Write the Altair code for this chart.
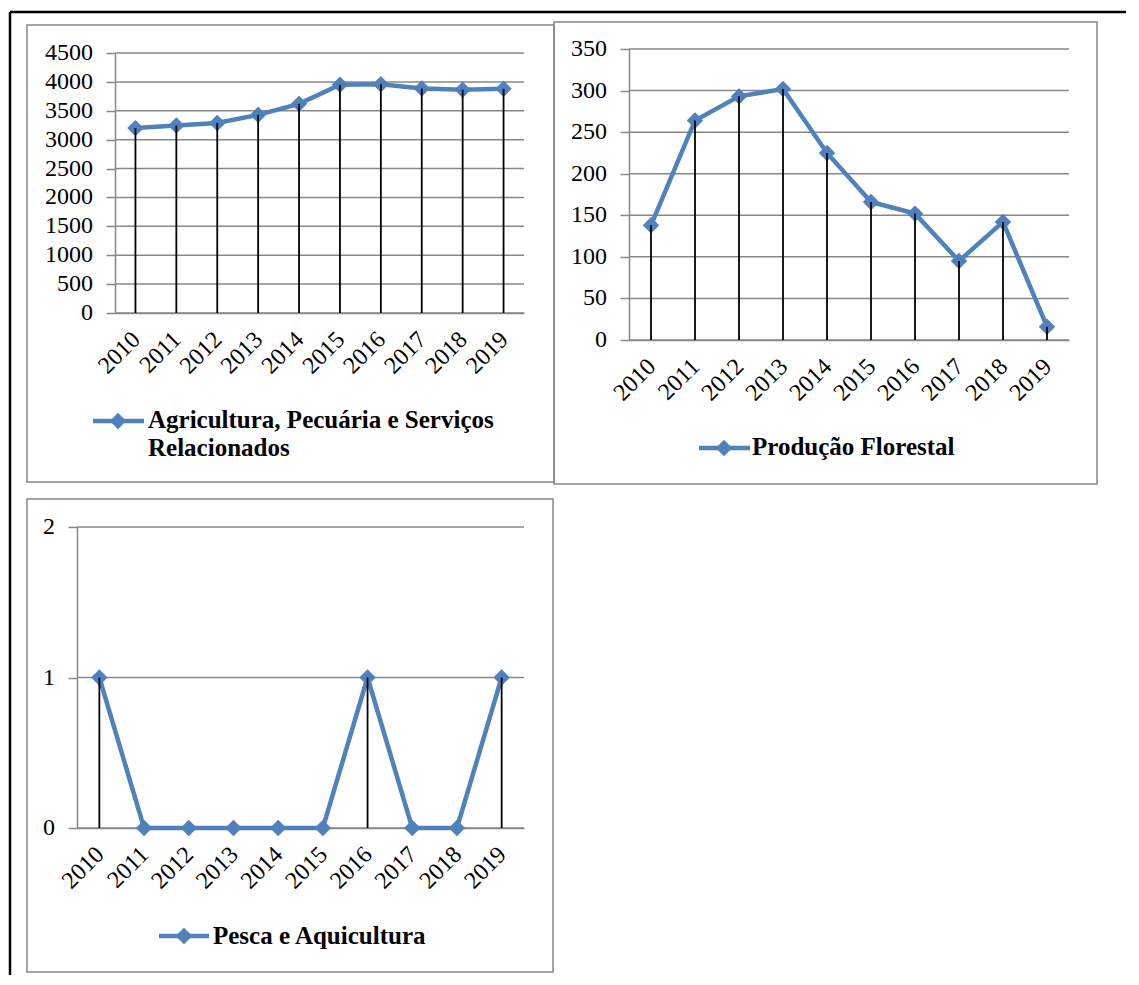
import altair as alt
import pandas as pd

years = ["2010", "2011", "2012", "2013", "2014", "2015", "2016", "2017", "2018", "2019"]
agri = [3200, 3245, 3290, 3430, 3620, 3950, 3960, 3885, 3865, 3880]
flor = [138, 264, 293, 302, 225, 166, 152, 95, 142, 16]
pesca = [1, 0, 0, 0, 0, 0, 1, 0, 0, 1]

name_agri = ["Agricultura, Pecuária e Serviços", "Relacionados"]
name_flor = "Produção Florestal"
name_pesca = "Pesca e Aquicultura"

ticks_agri = [0, 500, 1000, 1500, 2000, 2500, 3000, 3500, 4000, 4500]
ticks_flor = [0, 50, 100, 150, 200, 250, 300, 350]
ticks_pesca = [0, 1, 2]

BLUE = "#4F81BD"
GRID = "#878787"
FONT = "Liberation Serif"
MSIZE = 270


def one():
    return pd.DataFrame({"a": [0]})


def panel(values, ticks, label, w, h, xr, yr, yoff, border, leg, frame=False):
    df = pd.DataFrame({"year": years, "value": values})
    xs = alt.Scale(type="point", padding=0.5, range=xr)
    ys = alt.Scale(domain=[ticks[0], ticks[-1]], range=yr, nice=False, zero=True)
    xaxis = alt.Axis(title=None, labelAngle=-45, ticks=False, domainColor=GRID,
                     domainWidth=1.5, labelFont=FONT, labelFontSize=24,
                     labelColor="black", labelPadding=14, labelOffset=-8,
                     labelOverlap=False)
    yaxis = alt.Axis(title=None, values=ticks, grid=False, tickSize=9, tickColor=GRID,
                     tickWidth=1.5, domainColor=GRID, domainWidth=1.5, labels=False,
                     offset=yoff)

    layers = []
    layers.append(
        alt.Chart(one()).mark_rect(fillOpacity=0, stroke=GRID, strokeWidth=1.5).encode(
            x=alt.value(border[0]), x2=alt.value(border[1]),
            y=alt.value(border[2]), y2=alt.value(border[3]))
    )
    if frame:
        layers.append(
            alt.Chart(one()).mark_rule(color="black", strokeWidth=2.5).encode(
                x=alt.value(frame[0]), x2=alt.value(frame[1]), y=alt.value(frame[2]))
        )
        layers.append(
            alt.Chart(one()).mark_rule(color="black", strokeWidth=2.5).encode(
                x=alt.value(frame[0]), y=alt.value(frame[2]), y2=alt.value(frame[3]))
        )
    gdf = pd.DataFrame({"value": ticks})
    layers.append(
        alt.Chart(gdf).mark_rule(color=GRID, strokeWidth=1.5).encode(
            y=alt.Y("value:Q", scale=ys, axis=yaxis),
            x=alt.value(xr[0]), x2=alt.value(xr[1]))
    )
    # y tick labels
    layers.append(
        alt.Chart(gdf).mark_text(align="right", baseline="middle", font=FONT,
                                 fontSize=24, color="black").encode(
            y=alt.Y("value:Q", scale=ys, axis=yaxis),
            x=alt.value(xr[0] - 22),
            text=alt.Text("value:Q", format="d"))
    )
    base = alt.Chart(df).encode(
        x=alt.X("year:O", scale=xs, axis=xaxis),
        y=alt.Y("value:Q", scale=ys, axis=yaxis),
    )
    layers.append(
        base.mark_line(color=BLUE, strokeWidth=4.5,
                       point=alt.OverlayMarkDef(shape="diamond", size=MSIZE, filled=True,
                                                color=BLUE, opacity=1))
    )
    layers.append(
        base.mark_rule(color="black", strokeWidth=1.8).encode(y2=alt.datum(0))
    )
    # legend
    lx0, lx1, ly, dx, tx, ty = leg
    layers.append(
        alt.Chart(one()).mark_rule(color=BLUE, strokeWidth=4.5).encode(
            x=alt.value(lx0), x2=alt.value(lx1), y=alt.value(ly))
    )
    layers.append(
        alt.Chart(one()).mark_point(shape="diamond", size=MSIZE, filled=True, color=BLUE,
                                    opacity=1).encode(x=alt.value(dx), y=alt.value(ly))
    )
    layers.append(
        alt.Chart(one()).mark_text(align="left", baseline="alphabetic", font=FONT,
                                   fontSize=25, fontWeight="bold", lineHeight=28,
                                   color="black").encode(
            x=alt.value(tx), y=alt.value(ty), text=alt.value(label))
    )
    return alt.layer(*layers).properties(width=w, height=h)


p1 = panel(agri, ticks_agri, name_agri, 409, 262, [0, 409], [262, 2], 0,
           (-88, 439, -26, 431), (-22, 29, 370, 3, 33, 377),
           frame=(-105, 1011, -39, 924))
p2 = panel(flor, ticks_flor, name_flor, 440, 289, [0, 440], [289, -2], 0,
           (-75, 468, -29, 433), (70, 121, 397, 95, 123, 404))
p3 = panel(pesca, ticks_pesca, name_pesca, 409, 301, [-38, 409], [301, 0], 38,
           (-88, 438, -28, 445), (44, 94, 409, 69, 98, 417))

chart = alt.concat(
    p1, p2, p3, columns=2, spacing={"row": 187, "column": 105}, bounds="flush",
    padding={"left": 0, "top": 2, "right": 0, "bottom": 0},
).configure_view(stroke=None)

chart.save("out.html", embed_options={"renderer": "svg", "actions": False})
